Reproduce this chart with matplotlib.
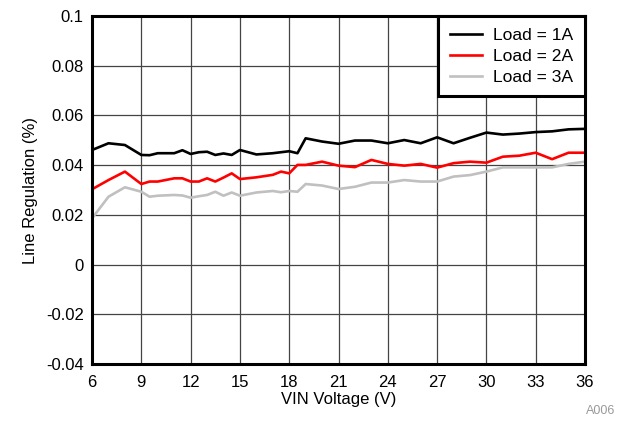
import matplotlib
matplotlib.use("Agg")
import matplotlib.pyplot as plt

plt.rcParams['font.family'] = ['Liberation Sans', 'DejaVu Sans']

vin = [6, 7, 8, 9, 9.5, 10, 11, 11.5, 12, 12.5, 13, 13.5, 14, 14.5, 15, 16, 17, 17.5, 18, 18.5,
       19, 20, 21, 22, 23, 24, 25, 26, 27, 28, 29, 30, 31, 32, 33, 34, 35, 36]
load_1a = [0.0461, 0.0488, 0.0481, 0.0441, 0.0440, 0.0448, 0.0448, 0.0460, 0.0445, 0.0452,
           0.0454, 0.0441, 0.0447, 0.0441, 0.0461, 0.0443, 0.0448, 0.0452, 0.0456, 0.0448,
           0.0508, 0.0495, 0.0486, 0.0499, 0.0499, 0.0488, 0.0501, 0.0488, 0.0512, 0.0488,
           0.0510, 0.0531, 0.0523, 0.0527, 0.0533, 0.0536, 0.0544, 0.0546]
load_2a = [0.0303, 0.0340, 0.0374, 0.0324, 0.0334, 0.0334, 0.0347, 0.0347, 0.0334, 0.0334,
           0.0347, 0.0334, 0.0350, 0.0367, 0.0344, 0.0351, 0.0361, 0.0374, 0.0367, 0.0401,
           0.0401, 0.0414, 0.0398, 0.0392, 0.0421, 0.0405, 0.0398, 0.0405, 0.0390, 0.0408,
           0.0414, 0.0410, 0.0434, 0.0438, 0.0450, 0.0424, 0.0450, 0.0450]
load_3a = [0.0186, 0.0273, 0.0311, 0.0293, 0.0273, 0.0277, 0.0280, 0.0278, 0.0269, 0.0275,
           0.0280, 0.0293, 0.0277, 0.0290, 0.0277, 0.0290, 0.0296, 0.0291, 0.0296, 0.0293,
           0.0324, 0.0318, 0.0304, 0.0313, 0.0330, 0.0330, 0.0340, 0.0334, 0.0334, 0.0354,
           0.0360, 0.0374, 0.0391, 0.0391, 0.0391, 0.0391, 0.0405, 0.0414]
labels = ['Load = 1A', 'Load = 2A', 'Load = 3A']
colors = ['#000000', '#ff0000', '#c0c0c0']
xticks = [6, 9, 12, 15, 18, 21, 24, 27, 30, 33, 36]
yticks = [-0.04, -0.02, 0, 0.02, 0.04, 0.06, 0.08, 0.1]
ytick_labels = ['-0.04', '-0.02', '0', '0.02', '0.04', '0.06', '0.08', '0.1']

fig = plt.figure(figsize=(6.22, 4.29), dpi=100)
ax = fig.add_axes([0.148, 0.1515, 0.7925, 0.8112])

for y, lab, c in zip([load_1a, load_2a, load_3a], labels, colors):
    ax.plot(vin, y, color=c, lw=1.9, label=lab, zorder=3)

ax.set_xlim(6, 36)
ax.set_ylim(-0.04, 0.1)
ax.set_xticks(xticks)
ax.set_xticklabels([str(t) for t in xticks])
ax.set_yticks(yticks)
ax.set_yticklabels(ytick_labels)
ax.tick_params(length=0, labelsize=12, pad=6)
ax.tick_params(axis='x', pad=8)
ax.grid(True, color='#444444', lw=0.9)
for s in ax.spines.values():
    s.set_linewidth(2.2)
    s.set_zorder(4)

ax.set_xlabel('VIN Voltage (V)', fontsize=12, labelpad=1)
ax.set_ylabel('Line Regulation (%)', fontsize=12, labelpad=6)

leg = ax.legend(loc='upper right', fontsize=12.6, fancybox=False, framealpha=1,
                edgecolor='black', borderaxespad=0, handlelength=1.85,
                handletextpad=0.65, labelspacing=0.33, borderpad=0.65)
leg.get_frame().set_linewidth(2.2)
leg.set_zorder(5)

fig.text(0.99, 0.028, 'A006', fontsize=9, color='#999999', ha='right', va='bottom')

fig.savefig('out.png', dpi=100)
